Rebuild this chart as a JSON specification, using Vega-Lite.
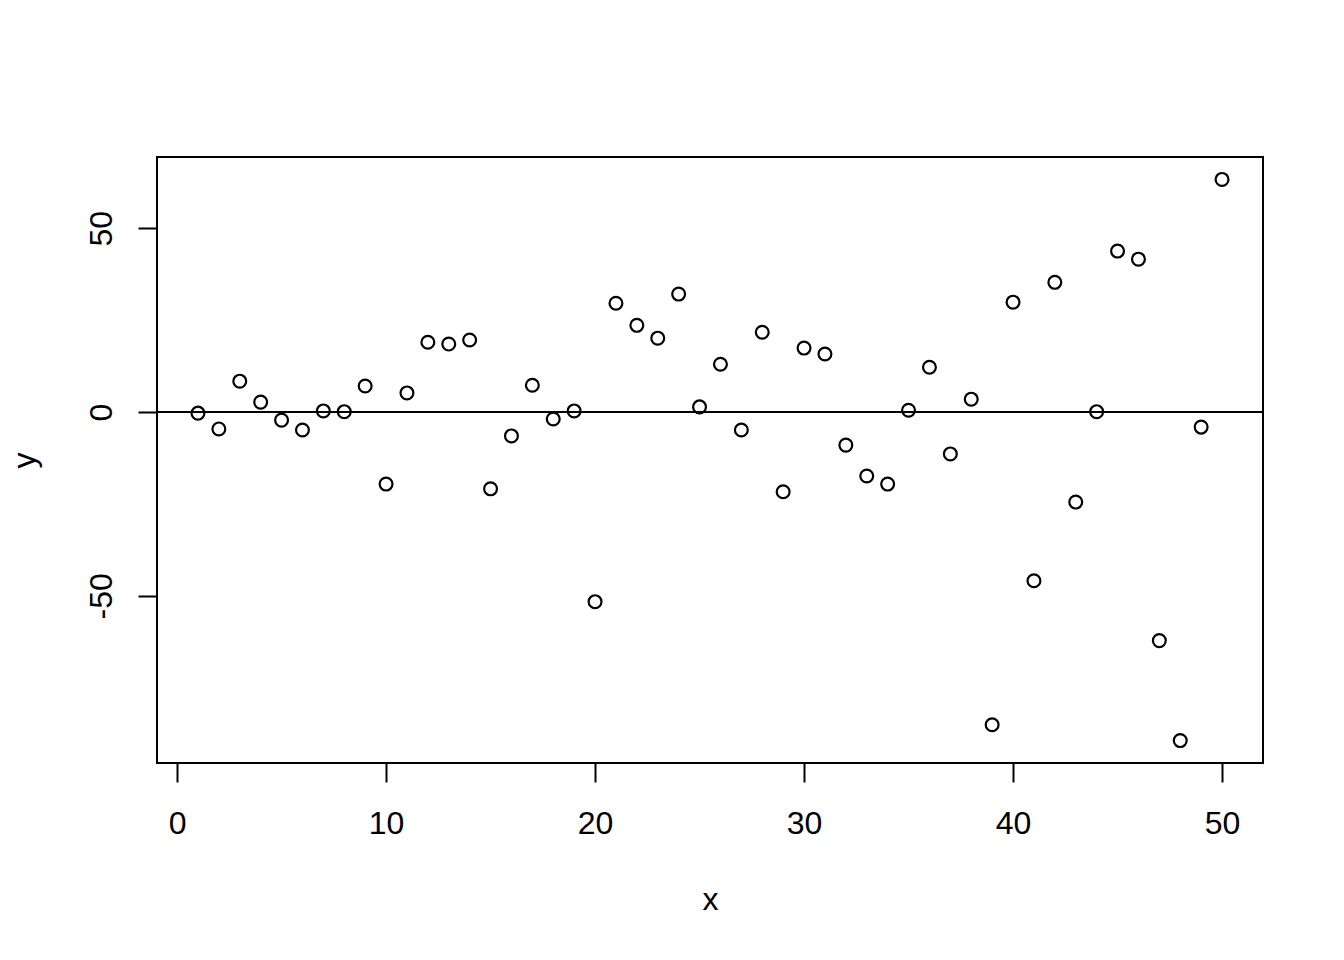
{
  "$schema": "https://vega.github.io/schema/vega-lite/v6.json",
  "width": 1106,
  "height": 606,
  "autosize": "none",
  "padding": {"left": 157, "top": 157, "right": 81, "bottom": 197},
  "background": "white",
  "config": {
    "view": {"stroke": "black", "strokeWidth": 2},
    "font": "Liberation Sans"
  },
  "data": {
    "values": [
      {"x": 1, "y": -0.3}, {"x": 2, "y": -4.6}, {"x": 3, "y": 8.4}, {"x": 4, "y": 2.7},
      {"x": 5, "y": -2.2}, {"x": 6, "y": -4.9}, {"x": 7, "y": 0.3}, {"x": 8, "y": 0.1},
      {"x": 9, "y": 7.1}, {"x": 10, "y": -19.6}, {"x": 11, "y": 5.2}, {"x": 12, "y": 19.0},
      {"x": 13, "y": 18.5}, {"x": 14, "y": 19.6}, {"x": 15, "y": -20.9}, {"x": 16, "y": -6.5},
      {"x": 17, "y": 7.3}, {"x": 18, "y": -1.9}, {"x": 19, "y": 0.3}, {"x": 20, "y": -51.6},
      {"x": 21, "y": 29.6}, {"x": 22, "y": 23.6}, {"x": 23, "y": 20.1}, {"x": 24, "y": 32.1},
      {"x": 25, "y": 1.4}, {"x": 26, "y": 13.0}, {"x": 27, "y": -4.9}, {"x": 28, "y": 21.7},
      {"x": 29, "y": -21.7}, {"x": 30, "y": 17.4}, {"x": 31, "y": 15.8}, {"x": 32, "y": -9.0},
      {"x": 33, "y": -17.4}, {"x": 34, "y": -19.6}, {"x": 35, "y": 0.5}, {"x": 36, "y": 12.2},
      {"x": 37, "y": -11.4}, {"x": 38, "y": 3.5}, {"x": 39, "y": -85.1}, {"x": 40, "y": 29.9},
      {"x": 41, "y": -45.9}, {"x": 42, "y": 35.3}, {"x": 43, "y": -24.5}, {"x": 44, "y": 0.1},
      {"x": 45, "y": 43.8}, {"x": 46, "y": 41.6}, {"x": 47, "y": -62.2}, {"x": 48, "y": -89.4},
      {"x": 49, "y": -4.1}, {"x": 50, "y": 63.3}
    ]
  },
  "layer": [
    {
      "mark": {"type": "rule", "color": "black", "strokeWidth": 2},
      "encoding": {"y": {"datum": 0, "type": "quantitative"}}
    },
    {
      "mark": {"type": "point", "shape": "circle", "filled": false, "color": "black", "strokeWidth": 2.2, "size": 165, "opacity": 1},
      "encoding": {
        "x": {
          "field": "x", "type": "quantitative",
          "scale": {"domain": [-0.96, 51.96], "nice": false, "zero": false},
          "axis": {
            "values": [0, 10, 20, 30, 40, 50],
            "domain": false, "grid": false,
            "tickColor": "black", "tickWidth": 2, "tickSize": 19,
            "labelFont": "Liberation Sans", "labelFontSize": 32, "labelColor": "black",
            "labelBaseline": "alphabetic", "labelAlign": "center", "labelPadding": 51,
            "labelFlush": false, "labelOverlap": false,
            "title": "x", "titleFont": "Liberation Sans", "titleFontSize": 32, "titleFontWeight": "normal",
            "titleColor": "black", "titleBaseline": "alphabetic", "titleAlign": "center",
            "titleX": 553, "titleY": 146
          }
        },
        "y": {
          "field": "y", "type": "quantitative",
          "scale": {"domain": [-95.5, 69.4], "nice": false, "zero": false},
          "axis": {
            "values": [-50, 0, 50],
            "labelExpr": "datum.value < 0 ? '-' + abs(datum.value) : '' + datum.value",
            "domain": false, "grid": false,
            "tickColor": "black", "tickWidth": 2, "tickSize": 19,
            "labelFont": "Liberation Sans", "labelFontSize": 32, "labelColor": "black",
            "labelAngle": 270, "labelBaseline": "alphabetic", "labelAlign": "center", "labelPadding": 27,
            "labelFlush": false, "labelOverlap": false,
            "title": "y", "titleFont": "Liberation Sans", "titleFontSize": 32, "titleFontWeight": "normal",
            "titleColor": "black", "titleBaseline": "alphabetic", "titleAlign": "center", "titleAngle": 270,
            "titleX": -123, "titleY": 303
          }
        }
      }
    }
  ]
}
